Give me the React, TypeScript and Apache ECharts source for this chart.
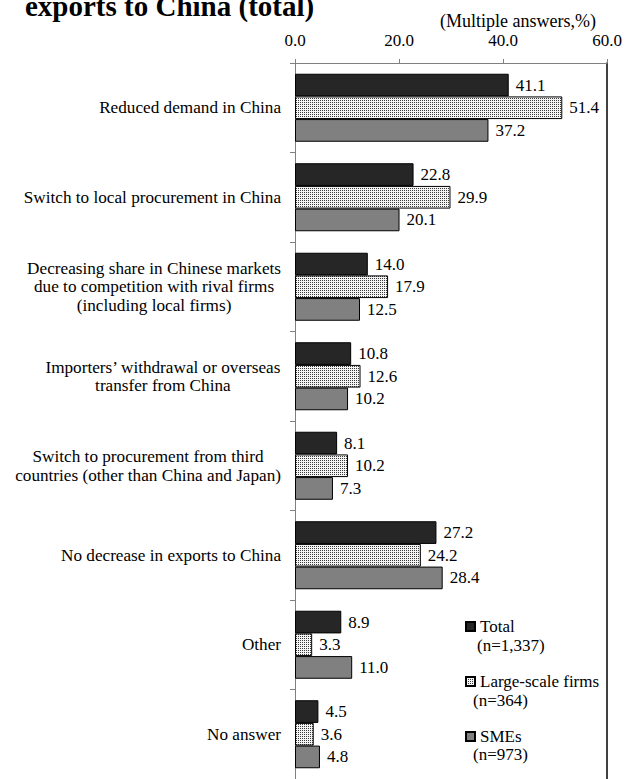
import React, { useEffect, useRef } from "react";
import * as echarts from "echarts";

const categories = [
  "Reduced demand in China",
  "Switch to local procurement in China",
  "Decreasing share in Chinese markets\ndue to competition with rival firms\n(including local firms)",
  "Importers’ withdrawal or overseas\ntransfer from China",
  "Switch to procurement from third\ncountries (other than China and Japan)",
  "No decrease in exports to China",
  "Other",
  "No answer",
];
const totalValues = [41.1, 22.8, 14.0, 10.8, 8.1, 27.2, 8.9, 4.5];
const largeValues = [51.4, 29.9, 17.9, 12.6, 10.2, 24.2, 3.3, 3.6];
const smeValues = [37.2, 20.1, 12.5, 10.2, 7.3, 28.4, 11.0, 4.8];
const seriesNames = ["Total", "Large-scale firms", "SMEs"];
const sampleSizes = ["(n=1,337)", "(n=364)", "(n=973)"];
const xTicks = { min: 0, max: 60, interval: 20 };

const FONT = "Liberation Serif, Times New Roman, serif";

function makeDotPattern(): any {
  const c = document.createElement("canvas");
  c.width = 4;
  c.height = 4;
  const ctx = c.getContext("2d")!;
  ctx.fillStyle = "#f4f4f4";
  ctx.fillRect(0, 0, 4, 4);
  ctx.fillStyle = "#3a3a3a";
  ctx.fillRect(0, 0, 1, 1);
  ctx.fillRect(2, 2, 1, 1);
  ctx.fillRect(2, 0, 1, 1);
  ctx.fillRect(0, 2, 1, 1);
  return { image: c, repeat: "repeat", imageWidth: 4, imageHeight: 4 };
}

export default function App() {
  const ref = useRef<HTMLDivElement>(null);
  useEffect(() => {
    document.body.style.margin = "0";
    const chart = echarts.init(ref.current!, null, { renderer: "svg" });
    const pattern = makeDotPattern();
    const label = {
      show: true,
      position: "right",
      distance: 7,
      color: "#000",
      fontSize: 17,
      fontFamily: FONT,
      formatter: (p: any) => Number(p.value).toFixed(1),
    };
    const mkSeries = (name: string, data: number[], color: any) => ({
      name,
      type: "bar",
      data,
      barGap: "0%",
      barCategoryGap: "24%",
      itemStyle: { color, borderColor: "#000", borderWidth: 1 },
      label,
    });
    chart.setOption({
      animation: false,
      textStyle: { fontFamily: FONT },
      grid: { left: 295, right: 18, top: 63, bottom: -4, containLabel: false },
      xAxis: {
        type: "value",
        position: "top",
        min: xTicks.min,
        max: xTicks.max,
        interval: xTicks.interval,
        axisLine: { show: true, lineStyle: { color: "#808080", width: 1 } },
        axisTick: { show: true, length: 4, lineStyle: { color: "#808080" } },
        splitLine: { show: false },
        axisLabel: {
          color: "#000",
          fontSize: 17,
          fontFamily: FONT,
          margin: 14,
          formatter: (v: number) => v.toFixed(1),
        },
      },
      yAxis: [
        {
          type: "category",
          data: categories,
          inverse: true,
          axisLine: { show: true, lineStyle: { color: "#808080", width: 1 } },
          axisTick: { show: true, length: 5, lineStyle: { color: "#808080" } },
          axisLabel: {
            color: "#000",
            fontSize: 17.2,
            fontFamily: FONT,
            margin: 14,
            align: "right",
            lineHeight: 18.5,
            formatter: (v: string) =>
              v
                .split("\n")
                .map((l) => `{c|${l}}`)
                .join("\n"),
            rich: {
              c: {
                align: "center",
                fontSize: 17.2,
                fontFamily: FONT,
                lineHeight: 18.5,
                color: "#000",
              },
            },
          },
        },
        {
          type: "category",
          data: categories,
          inverse: true,
          position: "right",
          axisLine: { show: true, lineStyle: { color: "#000", width: 1.5 } },
          axisTick: { show: false },
          axisLabel: { show: false },
        },
      ],
      legend: {
        data: seriesNames,
        orient: "vertical",
        left: 460,
        top: 613,
        itemWidth: 9,
        itemHeight: 9,
        itemGap: 38,
        icon: "rect",
        textStyle: { fontSize: 17, fontFamily: FONT, color: "#000", lineHeight: 17 },
      },
      graphic: [
        {
          type: "text",
          x: 25,
          y: 6,
          style: {
            text: "exports to China (total)",
            font: `bold 29px ${FONT}`,
            fill: "#000",
            verticalAlign: "middle",
          },
        },
        {
          type: "text",
          x: 518,
          y: 21,
          style: {
            text: "(Multiple answers,%)",
            font: `18px ${FONT}`,
            fill: "#000",
            align: "center",
            verticalAlign: "middle",
          },
        },
        ...sampleSizes.map((s, i) => ({
          type: "text",
          x: [477, 473, 473][i],
          y: [645, 700, 754][i],
          style: {
            text: s,
            font: `17px ${FONT}`,
            fill: "#000",
            verticalAlign: "middle",
          },
        })),
      ],
      series: [
        mkSeries(seriesNames[0], totalValues, "#262626"),
        mkSeries(seriesNames[1], largeValues, pattern),
        mkSeries(seriesNames[2], smeValues, "#808080"),
      ],
    });
    return () => chart.dispose();
  }, []);
  return <div ref={ref} style={{ width: 625, height: 779 }} />;
}
